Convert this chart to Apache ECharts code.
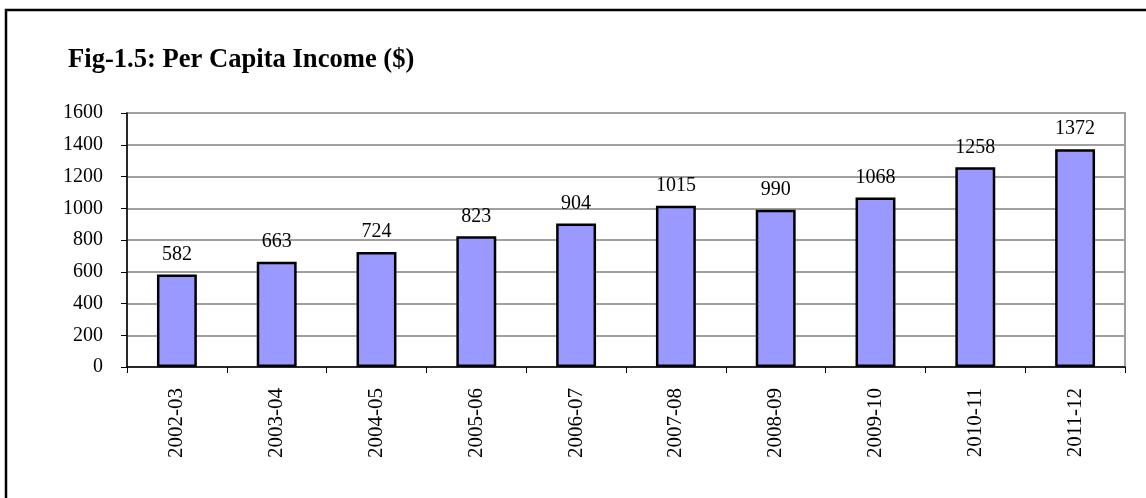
<!DOCTYPE html>
<html>
<head>
<meta charset="utf-8">
<script src="https://cdn.jsdelivr.net/npm/echarts@6/dist/echarts.min.js"></script>
<style>
  html, body { margin: 0; padding: 0; background: #fff; }
  #chart { width: 1146px; height: 498px; }
</style>
</head>
<body>
<div id="chart"></div>
<script>
// data
const years = ['2002-03', '2003-04', '2004-05', '2005-06', '2006-07', '2007-08', '2008-09', '2009-10', '2010-11', '2011-12'];
const income = [582, 663, 724, 823, 904, 1015, 990, 1068, 1258, 1372];
const yTicks = { min: 0, max: 1600, interval: 200 };

const serif = '"Liberation Serif", "DejaVu Serif", serif';

const myChart = echarts.init(document.getElementById('chart'));
myChart.setOption({
    animation: false,
    backgroundColor: '#fff',
    title: {
        text: 'Fig-1.5: Per Capita Income ($)',
        left: 63,
        top: 42,
        textStyle: { fontFamily: serif, fontSize: 26.6, fontWeight: 'bold', color: '#000' }
    },
    graphic: [{
        type: 'rect',
        shape: { x: 6, y: 10, width: 1200, height: 600 },
        style: { fill: 'none', stroke: '#000', lineWidth: 2.5 },
        silent: true
    }],
    grid: {
        left: 127, right: 21, top: 113, bottom: 131,
        show: true, borderColor: '#a0a0a0', borderWidth: 2
    },
    xAxis: {
        type: 'category',
        data: years,
        axisLine: { lineStyle: { color: '#000', width: 1.5 } },
        axisTick: { show: true, length: 6, lineStyle: { color: '#000' } },
        axisLabel: {
            rotate: 90, margin: 21, color: '#000',
            fontFamily: serif, fontSize: 21
        }
    },
    yAxis: {
        type: 'value',
        min: yTicks.min, max: yTicks.max, interval: yTicks.interval,
        axisLine: { show: true, lineStyle: { color: '#000', width: 1.5 } },
        axisTick: { show: true, length: 6, lineStyle: { color: '#000' } },
        axisLabel: {
            margin: 24, color: '#000', fontFamily: serif, fontSize: 20,
            formatter: v => String(v)
        },
        splitLine: { lineStyle: { color: '#a0a0a0', width: 2 } }
    },
    series: [{
        type: 'bar',
        data: income,
        barWidth: '40%',
        itemStyle: { color: '#9999ff', borderColor: '#000', borderWidth: 2.5 },
        label: {
            show: true, position: 'top', distance: 10,
            color: '#000', fontFamily: serif, fontSize: 20
        }
    }]
});
</script>
</body>
</html>
